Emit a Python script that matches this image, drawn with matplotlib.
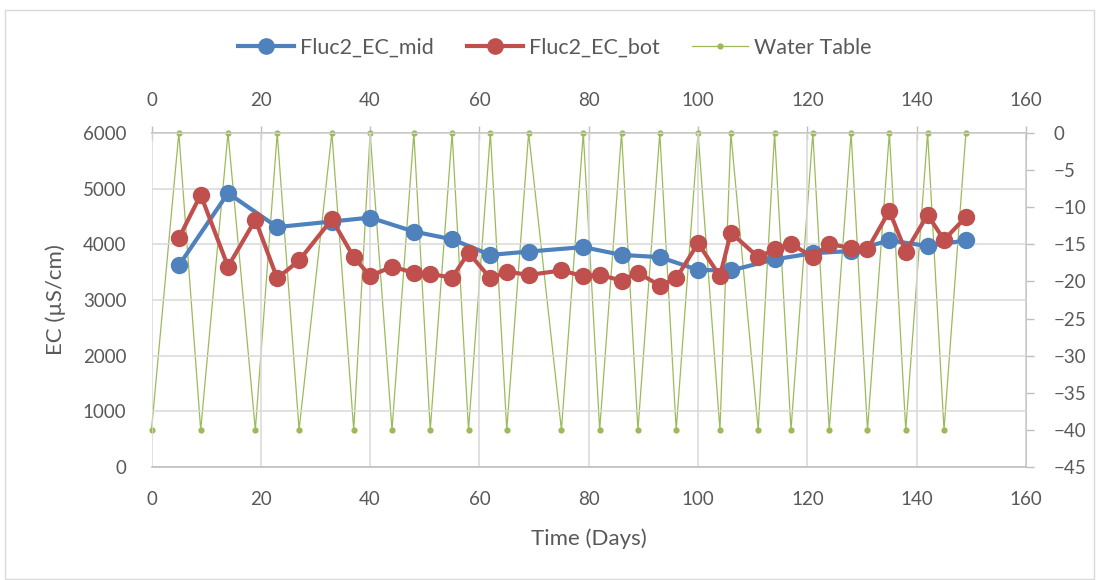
import matplotlib
matplotlib.use("Agg")
import matplotlib.pyplot as plt
from matplotlib.patches import Rectangle
from matplotlib.lines import Line2D

# EC measured at mid depth
days_mid = [5, 14, 23, 33, 40, 48, 55, 62, 69, 79, 86, 93, 100, 106, 114, 121, 128, 135, 142, 149]
ec_mid = [3620, 4920, 4310, 4410, 4480, 4230, 4090, 3810, 3870, 3950, 3810, 3770, 3540, 3530,
          3730, 3840, 3880, 4070, 3970, 4070]

# EC measured at the bottom
days_bot = [5, 9, 14, 19, 23, 27, 33, 37, 40, 44, 48, 51, 55, 58, 62, 65, 69, 75, 79, 82,
            86, 89, 93, 96, 100, 104, 106, 111, 114, 117, 121, 124, 128, 131, 135, 138, 142, 145, 149]
ec_bot = [4110, 4890, 3600, 4440, 3390, 3710, 4450, 3770, 3430, 3600, 3490, 3470, 3400, 3850,
          3390, 3510, 3450, 3530, 3430, 3450, 3350, 3490, 3260, 3390, 4020, 3430, 4210, 3770,
          3910, 4010, 3770, 4010, 3930, 3910, 4600, 3870, 4530, 4080, 4490]

# Water table level (cm)
days_wt = [0, 5, 9, 14, 19, 23, 27, 33, 37, 40, 44, 48, 51, 55, 58, 62, 65, 69, 75, 79,
           82, 86, 89, 93, 96, 100, 104, 106, 111, 114, 117, 121, 124, 128, 131, 135, 138, 142, 145, 149]
water_table = [-40, 0, -40, 0, -40, 0, -40, 0, -40, 0, -40, 0, -40, 0, -40, 0, -40, 0, -40, 0,
               -40, 0, -40, 0, -40, 0, -40, 0, -40, 0, -40, 0, -40, 0, -40, 0, -40, 0, -40, 0]

x_ticks = [0, 20, 40, 60, 80, 100, 120, 140, 160]
ec_ticks = [0, 1000, 2000, 3000, 4000, 5000, 6000]
wt_ticks = [0, -5, -10, -15, -20, -25, -30, -35, -40, -45]

BLUE = "#4f81bd"
RED = "#c0504d"
GREEN = "#9bbb59"
TXT = "#595959"
GRID = "#d9d9d9"
AXIS = "#bfbfbf"

plt.rcParams["font.family"] = ["Lato", "DejaVu Sans"]

fig = plt.figure(figsize=(10.97, 5.80), dpi=100)
fig.add_artist(Rectangle((0.005, 0.002), 0.992, 0.981, transform=fig.transFigure,
                         fill=False, edgecolor=GRID, linewidth=1.0))

rect = [151.5 / 1097, 1 - 467 / 580, (1026 - 151.5) / 1097, (467 - 133) / 580]

# Secondary axes (top / right) for the water table, drawn underneath
ax_wt = fig.add_axes(rect)
ax_wt.plot(days_wt, water_table, color=GREEN, lw=0.9, marker="o", ms=4.5,
           markeredgewidth=0, label="Water Table", clip_on=False)
ax_wt.set_xlim(0, 160)
ax_wt.set_ylim(-45, 0)
ax_wt.xaxis.tick_top()
ax_wt.yaxis.tick_right()
ax_wt.set_xticks(x_ticks)
ax_wt.set_yticks(wt_ticks)
ax_wt.tick_params(axis="x", direction="inout", length=10, width=1.0, color=AXIS,
                  labelsize=13.5, labelcolor=TXT, pad=12)
ax_wt.tick_params(axis="y", direction="out", length=6, width=1.0, color=AXIS,
                  labelsize=13.5, labelcolor=TXT, pad=14)
for s in ["left", "bottom"]:
    ax_wt.spines[s].set_visible(False)
for s in ["top", "right"]:
    ax_wt.spines[s].set_color(AXIS)
    ax_wt.spines[s].set_linewidth(1.2)
ax_wt.set_zorder(1)

# Primary axes (bottom / left) for EC
ax = fig.add_axes(rect)
ax.patch.set_visible(False)
ax.set_zorder(2)
ax.plot(days_mid, ec_mid, color=BLUE, lw=3.0, marker="o", ms=11.5,
        label="Fluc2_EC_mid", solid_capstyle="round")
ax.plot(days_bot, ec_bot, color=RED, lw=3.0, marker="o", ms=11.5,
        label="Fluc2_EC_bot", solid_capstyle="round")
ax.set_xlim(0, 160)
ax.set_ylim(0, 6000)
ax.set_xticks(x_ticks)
ax.set_yticks(ec_ticks)
ax.grid(True, color=GRID, lw=1.1)
ax.set_axisbelow(True)
ax.tick_params(axis="x", length=0, labelsize=13.5, labelcolor=TXT, pad=17)
ax.tick_params(axis="y", length=0, labelsize=13.5, labelcolor=TXT, pad=18)
for s in ["left", "top", "right"]:
    ax.spines[s].set_visible(False)
ax.spines["bottom"].set_color(AXIS)
ax.spines["bottom"].set_linewidth(1.2)
ax.set_xlabel("Time (Days)", fontsize=16, color=TXT, labelpad=15)
ax.set_ylabel("EC (µS/cm)", fontsize=16, color=TXT, labelpad=12)

handles = [
    Line2D([], [], color=BLUE, lw=3.0, marker="o", ms=11),
    Line2D([], [], color=RED, lw=3.0, marker="o", ms=11),
    Line2D([], [], color=GREEN, lw=0.9, marker="o", ms=4.5, markeredgewidth=0),
]
labels = ["Fluc2_EC_mid", "Fluc2_EC_bot", "Water Table"]
fig.legend(handles, labels, loc="center", bbox_to_anchor=(555 / 1097, 1 - 48 / 580),
           ncol=3, frameon=False, fontsize=15.5, labelcolor=TXT, handlelength=2.6,
           handletextpad=0.3, columnspacing=1.5)

fig.savefig("out.png", dpi=100)
